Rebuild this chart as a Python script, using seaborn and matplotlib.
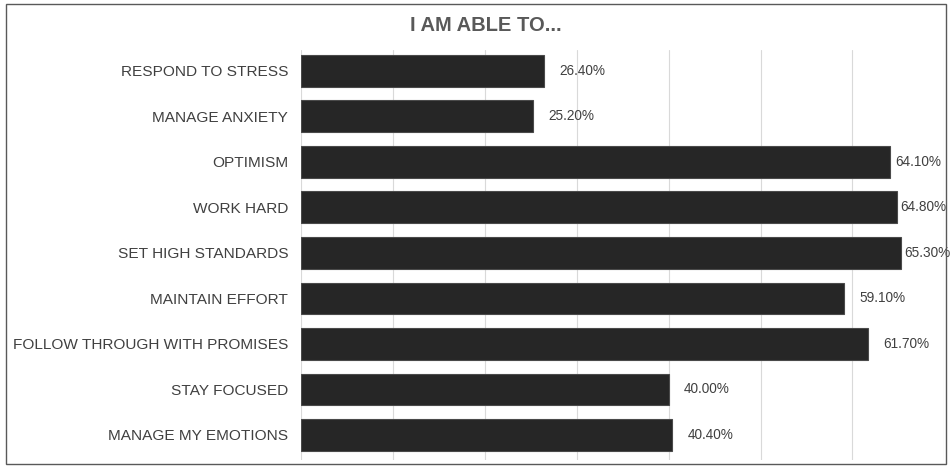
import matplotlib
matplotlib.use('Agg')
import matplotlib.pyplot as plt
import seaborn as sns
import pandas as pd
from matplotlib.patches import Rectangle

# data
CATEGORIES = ['RESPOND TO STRESS', 'MANAGE ANXIETY', 'OPTIMISM', 'WORK HARD',
              'SET HIGH STANDARDS', 'MAINTAIN EFFORT', 'FOLLOW THROUGH WITH PROMISES',
              'STAY FOCUSED', 'MANAGE MY EMOTIONS']
VALUES = [26.4, 25.2, 64.1, 64.8, 65.3, 59.1, 61.7, 40.0, 40.4]
X_TICKS = [0, 10, 20, 30, 40, 50, 60, 70]

BAR_COLOR = '#262626'
TEXT_COLOR = '#404040'
GRID_COLOR = '#d9d9d9'

sns.set_theme(style='white')
plt.rcParams['font.family'] = ['Liberation Sans', 'DejaVu Sans']

df = pd.DataFrame({'label': CATEGORIES, 'value': VALUES})

fig = plt.figure(figsize=(9.52, 4.67), dpi=100)
ax = fig.add_axes([0.316, 0.015, 0.676, 0.878])

sns.barplot(data=df, x='value', y='label', color=BAR_COLOR, saturation=1,
            width=0.7, edgecolor='#4a4a4a', linewidth=0.8, ax=ax, zorder=3)

ax.set_xlim(0, 70)
ax.set_ylim(len(CATEGORIES) - 0.45, -0.46)
ax.set_xticks(X_TICKS)
ax.set_xticklabels([])
ax.grid(axis='x', color=GRID_COLOR, linewidth=0.8, zorder=0)
ax.grid(axis='y', visible=False)
for s in ax.spines.values():
    s.set_visible(False)
ax.tick_params(axis='y', length=0, pad=9, labelsize=11.1, labelcolor=TEXT_COLOR)
ax.tick_params(axis='x', length=0)
ax.set_xlabel('')
ax.set_ylabel('')

# value labels, pulled in near the right edge like the original
for i, v in enumerate(VALUES):
    x = v + 1.7
    if v > 64:
        x = v + 0.3 + (65.3 - v) * 0.25
    ax.text(x, i, f'{v:.2f}%', va='center', ha='left', fontsize=9.8,
            color=TEXT_COLOR, clip_on=False, zorder=4)

fig.text(0.51, 0.945, 'I AM ABLE TO...', ha='center', va='center',
         fontsize=14.5, fontweight='bold', color='#595959')

# outer frame
fig.patches.append(Rectangle((0.006, 0.006), 0.988, 0.985, transform=fig.transFigure,
                             fill=False, edgecolor='#595959', linewidth=1.0))

fig.savefig('out.png', dpi=100)
